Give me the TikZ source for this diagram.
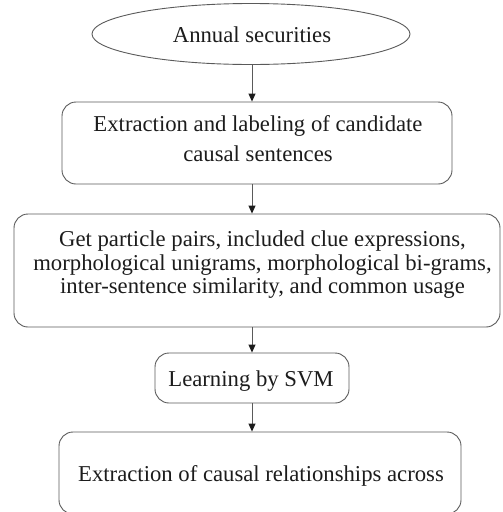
\documentclass[tikz,border=0pt]{standalone}
\usepackage{fontspec}
\setmainfont{Liberation Serif}
\usetikzlibrary{arrows.meta,shapes.geometric}
\definecolor{linec}{HTML}{5A5A5A}
\definecolor{textc}{HTML}{1C1C1C}
\tikzset{
  boxstyle/.style={draw=linec, line width=0.9pt, rounded corners=14pt, inner sep=0pt},
  ovalstyle/.style={draw=linec, line width=0.9pt, ellipse, inner sep=0pt},
  txt/.style={text=textc, inner sep=0pt, align=center, anchor=base, font=\fontsize{22.7}{23.3}\selectfont},
  arr/.style={draw=linec, line width=0.9pt, -{Triangle[length=8pt,width=7pt,color=textc]}}
}
\begin{document}
\begin{tikzpicture}[x=1pt,y=-1pt]
\useasboundingbox (0,0) rectangle (503,512);
\node[ovalstyle, minimum width=318pt, minimum height=61pt] (e) at (251,34) {};
\node[boxstyle, minimum width=390pt, minimum height=82pt] (b2) at (257,143) {};
\node[boxstyle, minimum width=486pt, minimum height=113pt] (b3) at (257,270.5) {};
\node[boxstyle, minimum width=194pt, minimum height=50pt] (b4) at (252,378) {};
\node[boxstyle, minimum width=402pt, minimum height=82pt] (b5) at (260,473) {};
\node[txt] (te) at (252,42.3) {Annual securities};
\node[txt, font=\fontsize{22.7}{29.5}\selectfont] (t2) at (258,161.2) {Extraction and labeling of candidate\\causal sentences};
\node[txt] (t3) at (262.5,293.3) {Get particle pairs, included clue expressions,\\morphological unigrams, morphological bi-grams,\\inter-sentence similarity, and common usage};
\node[txt] (t4) at (251,386.7) {Learning by SVM};
\node[txt] (t5) at (261,481) {Extraction of causal relationships across};
\coordinate (ax) at (252,0);
\draw[arr] (ax |- e.south) -- (ax |- b2.north);
\draw[arr] (ax |- b2.south) -- (ax |- b3.north);
\draw[arr] (ax |- b3.south) -- (ax |- b4.north);
\draw[arr] (ax |- b4.south) -- (ax |- b5.north);
\end{tikzpicture}
\end{document}
